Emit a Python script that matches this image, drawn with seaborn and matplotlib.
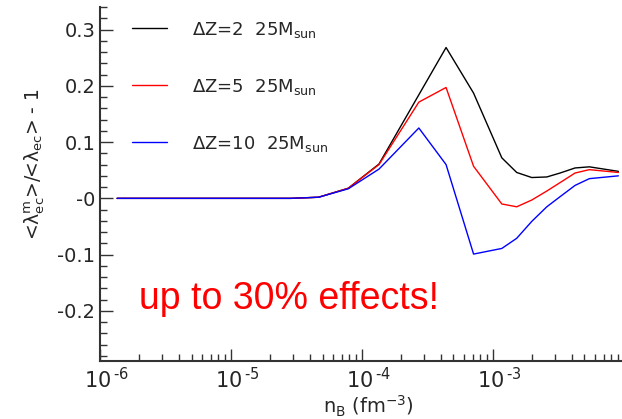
import numpy as np
import pandas as pd
import matplotlib
matplotlib.use('Agg')
import matplotlib.pyplot as plt
import matplotlib.ticker as mticker
import matplotlib.transforms as mtransforms
import seaborn as sns

# Données
n_b = [1.35e-6, 2.86e-5, 4.67e-5, 7.87e-5, 1.35e-4, 2.72e-4, 4.39e-4, 7.12e-4,
       1.17e-3, 1.52e-3, 1.98e-3, 2.58e-3, 3.26e-3, 4.24e-3, 5.45e-3, 9.08e-3]
dz2 = [0.0, 0.0, 0.002, 0.018, 0.061, 0.184, 0.268, 0.187,
       0.072, 0.046, 0.037, 0.038, 0.045, 0.054, 0.056, 0.048]
dz5 = [0.0, 0.0, 0.002, 0.018, 0.060, 0.171, 0.197, 0.057,
       -0.010, -0.015, -0.003, 0.013, 0.028, 0.045, 0.051, 0.046]
dz10 = [0.0, 0.0, 0.002, 0.017, 0.052, 0.125, 0.060, -0.099,
        -0.089, -0.071, -0.041, -0.015, 0.003, 0.023, 0.035, 0.040]
labels = [r'$\Delta$Z=2  25M$_{\mathrm{sun}}$',
          r'$\Delta$Z=5  25M$_{\mathrm{sun}}$',
          r'$\Delta$Z=10  25M$_{\mathrm{sun}}$']
colors = ['black', 'red', 'blue']
x_ticks = [1e-6, 1e-5, 1e-4, 1e-3]
x_ticklabels = ['10$^{\\,\u20106}$', '10$^{\\,\u20105}$',
                '10$^{\\,\u20104}$', '10$^{\\,\u20103}$']
y_ticks = [-0.2, -0.1, 0.0, 0.1, 0.2, 0.3]
y_ticklabels = ['-0.2', '-0.1', '-0', '0.1', '0.2', '0.3']

df = pd.concat([
    pd.DataFrame({'n_b': n_b, 'val': vals, 'serie': lab})
    for vals, lab in zip([dz2, dz5, dz10], labels)
], ignore_index=True)

sns.set_style("ticks")
plt.rcParams['mathtext.default'] = 'regular'
plt.rcParams['font.family'] = ['DejaVu Sans']

fig = plt.figure(figsize=(6.22, 4.19), dpi=100)
ax = fig.add_axes([100 / 622, 58 / 419, 522 / 622, 354 / 419])

sns.lineplot(data=df, x='n_b', y='val', hue='serie', hue_order=labels,
             palette=dict(zip(labels, colors)), linewidth=1.0, ax=ax,
             estimator=None, sort=False)

ax.set_xscale('log')
ax.set_xlim(1e-6, 9.68e-3)
ax.set_ylim(-0.289, 0.34)

ax.set_xticks(x_ticks)
ax.set_xticklabels(x_ticklabels, fontsize=15)
ax.xaxis.set_minor_locator(mticker.LogLocator(base=10, subs=np.arange(2, 10)))
ax.xaxis.set_minor_formatter(mticker.NullFormatter())
ax.set_yticks(y_ticks)
ax.set_yticklabels(y_ticklabels, fontsize=14)
ax.yaxis.set_minor_locator(mticker.MultipleLocator(0.02))

ax.tick_params(which='both', direction='in', color='#333333')
ax.tick_params(which='major', length=9, width=1)
ax.tick_params(which='minor', length=5, width=1)
ax.tick_params(axis='x', pad=4)

# Le "10" centré sur la graduation, l'exposant à droite
decalage = mtransforms.ScaledTranslation(-16 / 100, 0, fig.dpi_scale_trans)
for lab in ax.get_xticklabels():
    lab.set_horizontalalignment('left')
    lab.set_transform(lab.get_transform() + decalage)

for side in ['top', 'right']:
    ax.spines[side].set_visible(False)
for side in ['left', 'bottom']:
    ax.spines[side].set_linewidth(1.5)
    ax.spines[side].set_color('#333333')

ax.set_xlabel(r'n$_B$ (fm$^{-3}$)', fontsize=14)
ax.xaxis.set_label_coords(0.515, -0.092)
ax.set_ylabel(r'<$\lambda_{ec}^{m}$>/<$\lambda_{ec}$> - 1', fontsize=13.5)
ax.yaxis.set_label_coords(-0.1015, 0.557)

ax.text(10 ** -5.70, -0.178, 'up to 30% effects!', color='red', fontsize=27,
        va='center', ha='left', family=['Liberation Sans', 'DejaVu Sans'])

leg = ax.legend(loc='upper left', bbox_to_anchor=(0.03, 1.01), frameon=False,
                fontsize=13, labelspacing=2.05, handlelength=1.95,
                handletextpad=1.38)

plt.savefig('out.png', dpi=100)
plt.close()
